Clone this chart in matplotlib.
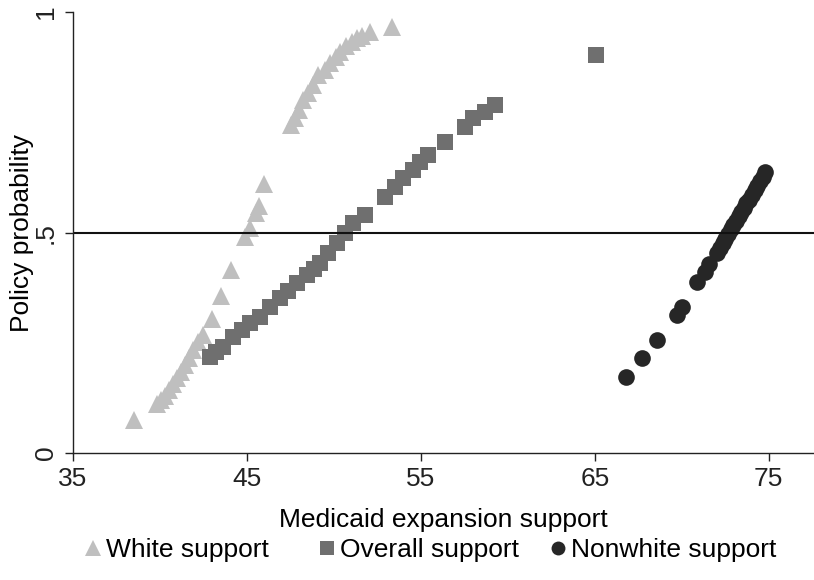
import numpy as np
import matplotlib.pyplot as plt
from matplotlib.lines import Line2D

plt.rcParams['font.family'] = ['Liberation Sans', 'DejaVu Sans']

# White support (triangles)
white_x = [38.50, 39.83, 40.06, 40.29, 40.52, 40.75, 40.98, 41.21, 41.44, 41.67,
           41.90, 42.18, 42.47, 43.00, 43.50, 44.10, 44.90, 45.20, 45.50, 45.70,
           46.00, 47.53, 47.76, 47.99, 48.22, 48.51, 48.79, 49.08, 49.48, 49.77,
           50.11, 50.34, 50.69, 51.03, 51.32, 51.61, 52.07, 53.33]
white_y = [0.075, 0.111, 0.120, 0.129, 0.143, 0.156, 0.170, 0.184, 0.200, 0.215,
           0.234, 0.252, 0.268, 0.303, 0.356, 0.415, 0.490, 0.510, 0.545, 0.560,
           0.610, 0.744, 0.760, 0.778, 0.800, 0.816, 0.834, 0.857, 0.868, 0.884,
           0.898, 0.909, 0.923, 0.932, 0.941, 0.946, 0.955, 0.966]

# Overall support (squares)
overall_x = [42.87, 43.22, 43.62, 44.20, 44.71, 45.17, 45.75, 46.32, 46.90, 47.36,
             47.87, 48.45, 48.85, 49.20, 49.66, 50.17, 50.63, 51.09, 51.78, 52.93,
             53.51, 53.97, 54.54, 54.94, 55.40, 56.38, 57.53, 57.99, 58.68, 59.25,
             65.06]
overall_y = [0.218, 0.229, 0.240, 0.263, 0.279, 0.295, 0.308, 0.331, 0.351, 0.367,
             0.385, 0.404, 0.417, 0.431, 0.454, 0.476, 0.499, 0.522, 0.540, 0.580,
             0.603, 0.624, 0.642, 0.660, 0.676, 0.705, 0.739, 0.760, 0.773, 0.789,
             0.902]

# Nonwhite support (circles)
nonwhite_x = [66.78, 67.70, 68.56, 69.71, 70.00, 70.86, 71.32, 71.55, 72.01, 72.18,
              72.35, 72.50, 72.66, 72.80, 72.95, 73.10, 73.26, 73.40, 73.55, 73.70,
              73.86, 74.02, 74.18, 74.33, 74.50, 74.64, 74.77]
nonwhite_y = [0.172, 0.215, 0.256, 0.313, 0.331, 0.388, 0.410, 0.429, 0.454, 0.466,
              0.477, 0.486, 0.497, 0.507, 0.517, 0.527, 0.537, 0.546, 0.556, 0.566,
              0.575, 0.586, 0.596, 0.606, 0.617, 0.627, 0.637]

x_ticks = [35, 45, 55, 65, 75]
y_ticks = [0, 0.5, 1]
y_tick_labels = ['0', '.5', '1']
legend_labels = ['White support', 'Overall support', 'Nonwhite support']

c_white = '#bfbfbf'
c_overall = '#6f6f6f'
c_nonwhite = '#262626'

fig = plt.figure(figsize=(8.14, 5.80), dpi=100)
ax = fig.add_axes([0.0897, 0.219, 0.9103, 0.760])

ax.plot(white_x, white_y, linestyle='none', marker='^', markersize=13,
        color=c_white, markeredgewidth=0)
ax.plot(overall_x, overall_y, linestyle='none', marker='s', markersize=12,
        color=c_overall, markeredgewidth=0)
ax.plot(nonwhite_x, nonwhite_y, linestyle='none', marker='o', markersize=12,
        color=c_nonwhite, markeredgewidth=0)

ax.axhline(0.5, color='#111111', linewidth=1.5)

ax.set_xlim(35, 77.6)
ax.set_ylim(0, 1)
ax.set_xticks(x_ticks)
ax.set_yticks(y_ticks)
ax.set_yticklabels(y_tick_labels, rotation=90, va='center')
ax.tick_params(direction='out', length=6, width=1, labelsize=19, colors='#222222')
ax.tick_params(axis='x', pad=4)
ax.tick_params(axis='y', pad=5)

for s in ['top', 'right']:
    ax.spines[s].set_visible(False)
for s in ['left', 'bottom']:
    ax.spines[s].set_color('#222222')
    ax.spines[s].set_linewidth(1)

ax.set_xlabel('Medicaid expansion support', fontsize=19, labelpad=12)
ax.set_ylabel('Policy probability', fontsize=19, labelpad=0)

# Stata-style legend: equal-width columns, one legend per key
handles = [
    Line2D([], [], linestyle='none', marker='^', markersize=11, color=c_white, markeredgewidth=0),
    Line2D([], [], linestyle='none', marker='s', markersize=10, color=c_overall, markeredgewidth=0),
    Line2D([], [], linestyle='none', marker='o', markersize=10, color=c_nonwhite, markeredgewidth=0),
]
key_left = [81 / 814, 315 / 814, 546 / 814]
for h, lab, x0 in zip(handles, legend_labels, key_left):
    fig.legend([h], [lab], loc='center left', bbox_to_anchor=(x0, 0.052),
               frameon=False, fontsize=19, handletextpad=0.05, handlelength=0.9,
               borderaxespad=0, borderpad=0)

fig.savefig('out.png', dpi=100)
